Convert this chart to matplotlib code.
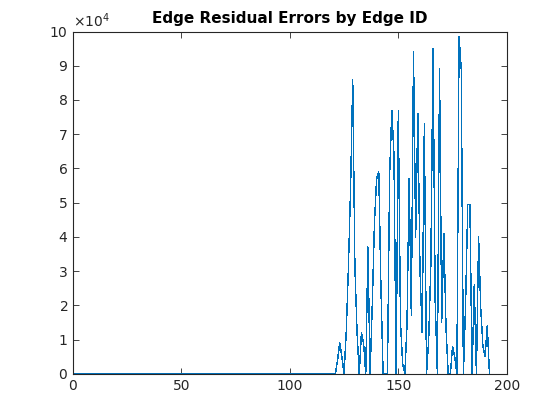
import numpy as np
import matplotlib
matplotlib.use("Agg")
import matplotlib.pyplot as plt
from matplotlib.ticker import ScalarFormatter

# Edge IDs 1..192; edges 1..120 have zero residual
edge_ids = list(range(1, 193))
nonzero_start = 121
residuals_tail = [
    0, 4000, 9000, 5000, 0,            # 121-125
    12000, 31000, 54000, 86000, 31000, # 126-130
    12000, 0, 12000, 9000, 0,          # 131-135
    37000, 0, 20000, 44000, 57000,     # 136-140
    59000, 25000, 0, 0, 0,             # 141-145
    58000, 77000, 64000, 0, 77000,     # 146-150
    15000, 3000, 0, 14000, 57000,      # 151-155
    17000, 94000, 40000, 76000, 30000, # 156-160
    12000, 73000, 0, 10000, 32000,     # 161-165
    95000, 21000, 0, 89000, 15000,     # 166-170
    41000, 13000, 0, 0, 8000,          # 171-175
    5000, 0, 98600, 89000, 0,          # 176-180
    20000, 49500, 49500, 0, 26000,     # 181-185
    0, 40000, 19000, 8000, 5000,       # 186-190
    14000, 0,                          # 191-192
]
residuals = [0] * (nonzero_start - 1) + residuals_tail

title = "Edge Residual Errors by Edge ID"
x_ticks = [0, 50, 100, 150, 200]
y_ticks = [i * 10000 for i in range(11)]

fig = plt.figure(figsize=(5.6, 4.2), dpi=100)
ax = fig.add_axes([0.13, 0.11, 0.775, 0.815])
ax.plot(edge_ids, residuals, color="#0072BD", linewidth=0.3, antialiased=False)

ax.set_xlim(0, 200)
ax.set_ylim(0, 100000)
ax.set_xticks(x_ticks)
ax.set_yticks(y_ticks)

fmt = ScalarFormatter(useMathText=True)
fmt.set_powerlimits((4, 4))
ax.yaxis.set_major_formatter(fmt)

axcol = "#262626"
for s in ax.spines.values():
    s.set_color(axcol)
    s.set_linewidth(0.8)
ax.tick_params(direction="in", length=4, width=0.6, colors=axcol,
               labelsize=10, top=True, right=True)
ax.yaxis.get_offset_text().set_fontsize(10)
ax.yaxis.get_offset_text().set_color(axcol)

ax.set_title(title, fontsize=11, fontweight="bold", color="black", pad=6)

fig.savefig("out.png", dpi=100)
